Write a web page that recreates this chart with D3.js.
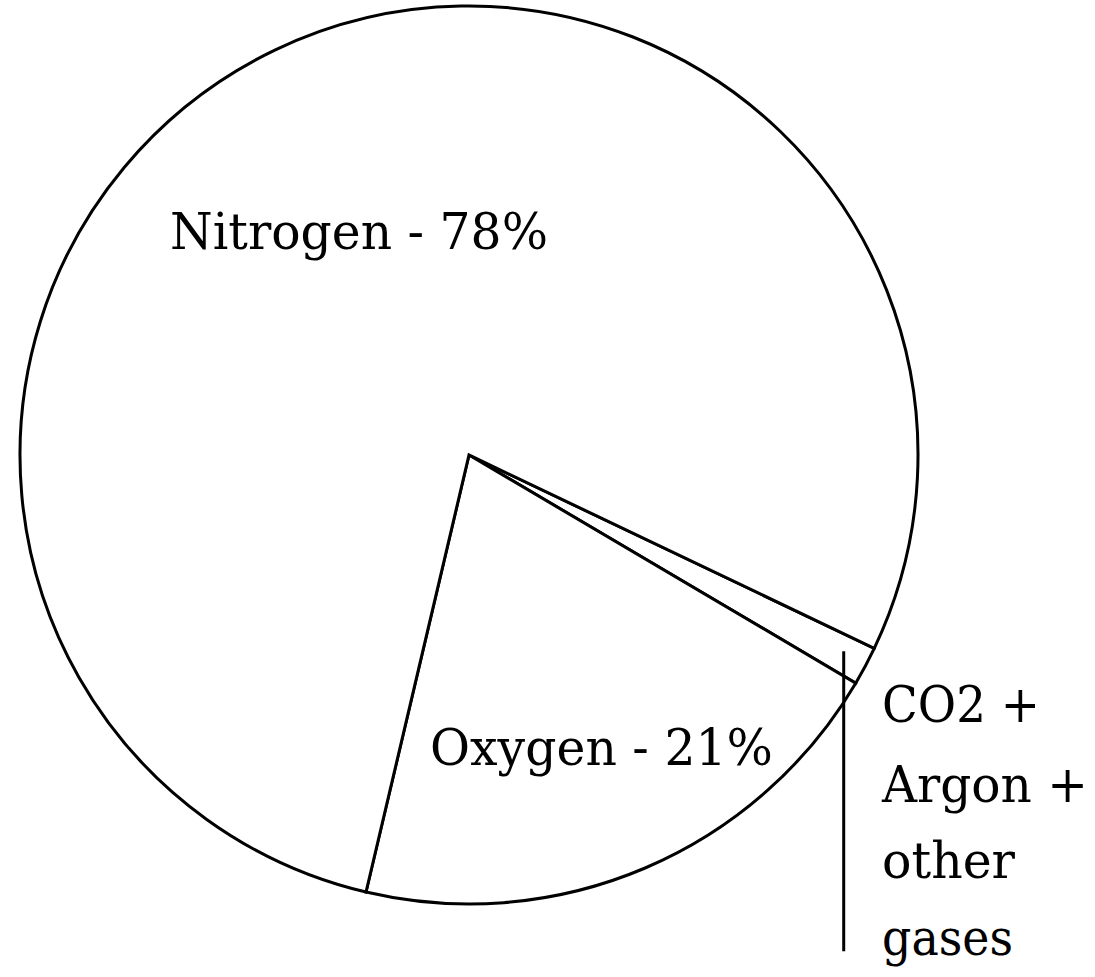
<!DOCTYPE html>
<html>
<head>
<meta charset="utf-8">
<script src="https://cdn.jsdelivr.net/npm/d3@7"></script>
<style>
  body { margin: 0; background: #fff; }
  svg { display: block; }
  text { font-family: "DejaVu Serif", serif; font-size: 50px; fill: #000; }
</style>
</head>
<body>
<svg id="chart" width="1095" height="977"></svg>
<script>
// gases in the air - slice sizes as drawn (labels say 78 / 21)
var gases = ["CO2 + Argon + other gases", "Oxygen", "Nitrogen"];
var percents = [1.4, 20.2, 78.4];
var labels = ["Nitrogen - 78%", "Oxygen - 21%"];
var otherLines = ["CO2 +", "Argon +", "other", "gases"];

var width = 1095, height = 977;
var cx = 469, cy = 455, radius = 449;
var startDeg = 115.5;

var svg = d3.select("#chart");
var g = svg.append("g").attr("transform", "translate(" + cx + "," + cy + ")");

var pie = d3.pie()
    .sort(null)
    .startAngle(startDeg * Math.PI / 180)
    .endAngle(startDeg * Math.PI / 180 + 2 * Math.PI);

var arc = d3.arc().innerRadius(0).outerRadius(radius);

var slices = pie(percents);

g.selectAll("path.slice")
  .data(slices)
  .enter().append("path")
  .attr("class", "slice")
  .attr("d", arc)
  .attr("fill", "#fff")
  .attr("stroke", "#000")
  .attr("stroke-width", 3)
  .attr("stroke-linejoin", "miter");

// leader line for the tiny slice, dropped near where its lower edge meets the circle
var a = slices[0].endAngle;
var lx = radius * Math.sin(a) - 12;
var ly = -radius * Math.cos(a);
g.append("line")
  .attr("x1", lx).attr("x2", lx)
  .attr("y1", ly - 32).attr("y2", ly + 268)
  .attr("stroke", "#000")
  .attr("stroke-width", 3);

// slice labels
svg.append("text").attr("x", 170).attr("y", 249)
  .attr("textLength", 378).attr("lengthAdjust", "spacingAndGlyphs")
  .text(labels[0]);
svg.append("text").attr("x", 430).attr("y", 765)
  .attr("textLength", 343).attr("lengthAdjust", "spacingAndGlyphs")
  .text(labels[1]);

var otherWidths = [158, 206, 133, 131];
var otherBase = [722, 802, 878, 955];
svg.selectAll("text.other")
  .data(otherLines)
  .enter().append("text")
  .attr("class", "other")
  .attr("x", 882)
  .attr("y", function(d, i) { return otherBase[i]; })
  .attr("textLength", function(d, i) { return otherWidths[i]; })
  .attr("lengthAdjust", "spacingAndGlyphs")
  .text(function(d) { return d; });
</script>
</body>
</html>
